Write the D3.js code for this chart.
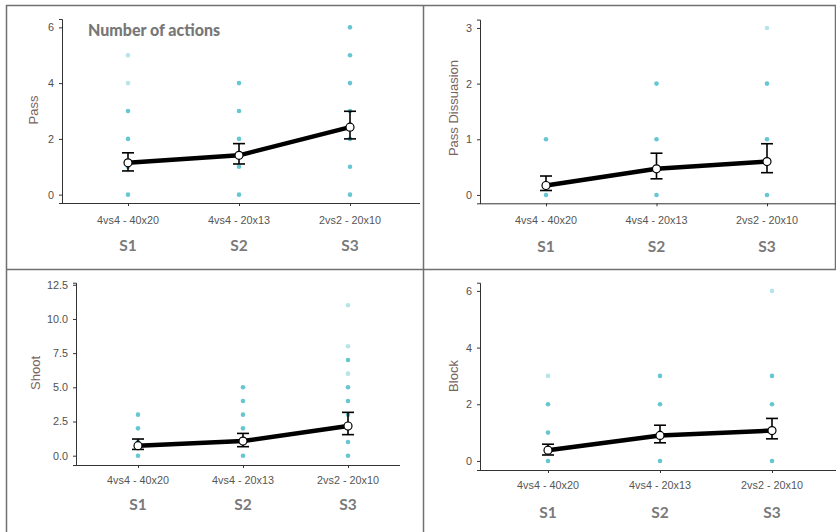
<!DOCTYPE html>
<html>
<head>
<meta charset="utf-8">
<script src="https://cdn.jsdelivr.net/npm/d3@7/dist/d3.min.js"></script>
<style>
  html, body { margin: 0; padding: 0; background: #fff; }
  svg { display: block; }
</style>
</head>
<body>
<svg id="chart" width="836" height="532"></svg>
<script>
// ---------- DATA ----------
const categories = ["4vs4 - 40x20", "4vs4 - 20x13", "2vs2 - 20x10"];
const sessions = ["S1", "S2", "S3"];
const title = "Number of actions";

const passMean = [1.14, 1.41, 2.42];
const passLow  = [0.85, 1.10, 2.00];
const passHigh = [1.50, 1.83, 2.99];
const passDots      = [[0, 1, 2, 3], [0, 1, 2, 3, 4], [0, 1, 2, 3, 4, 5, 6]];
const passDotsLight = [[4, 5], [], []];
const passTicks = [0, 2, 4, 6];

const dissMean = [0.17, 0.47, 0.60];
const dissLow  = [0.08, 0.29, 0.40];
const dissHigh = [0.34, 0.75, 0.92];
const dissDots      = [[0, 1], [0, 1, 2], [0, 1, 2]];
const dissDotsLight = [[], [], [3]];
const dissTicks = [0, 1, 2, 3];

const shootMean = [0.73, 1.07, 2.17];
const shootLow  = [0.46, 0.66, 1.54];
const shootHigh = [1.22, 1.63, 3.17];
const shootDots      = [[0, 1, 2, 3], [0, 1, 2, 3, 4, 5], [0, 1, 2, 3, 4, 5, 7]];
const shootDotsLight = [[], [], [6, 8, 11]];
const shootTicks = [0, 2.5, 5, 7.5, 10, 12.5];

const blockMean = [0.38, 0.90, 1.07];
const blockLow  = [0.21, 0.64, 0.78];
const blockHigh = [0.59, 1.26, 1.50];
const blockDots      = [[0, 1, 2], [0, 1, 2, 3], [0, 1, 2, 3]];
const blockDotsLight = [[3], [], [6]];
const blockTicks = [0, 2, 4, 6];

// ---------- LAYOUT ----------
const panels = [
  { name: "Pass", mean: passMean, low: passLow, high: passHigh, dots: passDots, light: passDotsLight,
    ticks: passTicks, fmt: d3.format("d"), domain: [-0.3, 6.3], yRange: [203, 19],
    axisX: 62, xs: [128, 350], xEnd: 420, tickY: 220, sY: 245, titleX: 33, titleY: 110, showTitle: true },
  { name: "Pass Dissuasion", mean: dissMean, low: dissLow, high: dissHigh, dots: dissDots, light: dissDotsLight,
    ticks: dissTicks, fmt: d3.format("d"), domain: [-0.15, 3.15], yRange: [203.3, 19.6],
    axisX: 480, xs: [546, 767], xEnd: 836, tickY: 220, sY: 246, titleX: 453, titleY: 108 },
  { name: "Shoot", mean: shootMean, low: shootLow, high: shootHigh, dots: shootDots, light: shootDotsLight,
    ticks: shootTicks, fmt: d3.format(".1f"), domain: [-0.68, 12.65], yRange: [465, 282.7],
    axisX: 76, xs: [138, 348], xEnd: 400, tickY: 479.5, sY: 503.5, titleX: 35, titleY: 373 },
  { name: "Block", mean: blockMean, low: blockLow, high: blockHigh, dots: blockDots, light: blockDotsLight,
    ticks: blockTicks, fmt: d3.format("d"), domain: [-0.32, 6.29], yRange: [470, 282.7],
    axisX: 480, xs: [548, 772], xEnd: 836, tickY: 485, sY: 512, titleX: 453, titleY: 376 }
];

const svg = d3.select("#chart");

// frame lines
const frame = svg.append("g").attr("stroke", "#707070").attr("stroke-width", 1.5).attr("fill", "none");
frame.append("line").attr("x1", 6).attr("x2", 836).attr("y1", 5.5).attr("y2", 5.5);
frame.append("line").attr("x1", 6.5).attr("x2", 6.5).attr("y1", 5).attr("y2", 532);
frame.append("line").attr("x1", 423.5).attr("x2", 423.5).attr("y1", 5).attr("y2", 532);
frame.append("line").attr("x1", 6).attr("x2", 836).attr("y1", 269.5).attr("y2", 269.5);
frame.append("line").attr("x1", 835.5).attr("x2", 835.5).attr("y1", 5).attr("y2", 269);

const dotColor = "#5ec3cf";
const tickFont = "10.8px";

panels.forEach(p => {
  const g = svg.append("g");
  const y = d3.scaleLinear().domain(p.domain).range(p.yRange);
  const x = d3.scalePoint().domain(categories).range(p.xs);

  // y axis
  const yAxis = g.append("g").attr("transform", `translate(${p.axisX},0)`)
    .call(d3.axisLeft(y).tickValues(p.ticks).tickFormat(p.fmt).tickSizeOuter(0).tickSize(3).tickPadding(5));
  yAxis.select(".domain").attr("stroke", "#333").attr("stroke-width", 1);
  yAxis.selectAll(".tick line").attr("stroke", "#333");
  yAxis.selectAll(".tick text").attr("fill", "#4f4f4f").style("font-family", "'Liberation Sans', Arial, sans-serif").style("font-size", tickFont);

  // x axis line
  g.append("line").attr("x1", p.axisX).attr("x2", p.xEnd)
    .attr("y1", p.yRange[0] + 0.5).attr("y2", p.yRange[0] + 0.5)
    .attr("stroke", "#333").attr("stroke-width", 1);
  const xTicks = g.append("g").attr("transform", `translate(0,${p.yRange[0]})`)
    .call(d3.axisBottom(x).tickSize(3).tickSizeOuter(0).tickFormat(""));
  xTicks.select(".domain").remove();
  xTicks.selectAll(".tick line").attr("stroke", "#333");

  // category labels
  g.selectAll("text.cat").data(categories).join("text")
    .attr("class", "cat")
    .attr("x", d => x(d)).attr("y", p.tickY)
    .attr("text-anchor", "middle").attr("dominant-baseline", "central")
    .attr("fill", "#555")
    .style("font-family", "'Liberation Sans', Arial, sans-serif").style("font-size", tickFont)
    .text(d => d);

  // session labels
  g.selectAll("text.ses").data(sessions).join("text")
    .attr("class", "ses")
    .attr("x", (d, i) => x(categories[i])).attr("y", p.sY)
    .attr("text-anchor", "middle").attr("dominant-baseline", "central")
    .attr("fill", "#7a7a7a")
    .style("font-family", "Lato, 'Open Sans', sans-serif").style("font-weight", "bold").style("font-size", "15.5px")
    .text(d => d);

  // y title
  g.append("text")
    .attr("transform", `translate(${p.titleX},${p.titleY}) rotate(-90)`)
    .attr("text-anchor", "middle").attr("dominant-baseline", "central")
    .attr("fill", "#7a645c")
    .style("font-family", "'Liberation Sans', Arial, sans-serif").style("font-size", "13px")
    .text(p.name);

  if (p.showTitle) {
    g.append("text").attr("x", 88).attr("y", 29)
      .attr("dominant-baseline", "central")
      .attr("fill", "#777")
      .style("font-family", "Lato, 'Open Sans', sans-serif").style("font-weight", "900").style("font-size", "16px")
      .text(title);
  }

  // raw points
  categories.forEach((c, i) => {
    g.selectAll(null).data(p.dots[i]).join("circle")
      .attr("cx", x(c)).attr("cy", d => y(d)).attr("r", 2.3)
      .attr("fill", dotColor).attr("opacity", 0.95);
    g.selectAll(null).data(p.light[i]).join("circle")
      .attr("cx", x(c)).attr("cy", d => y(d)).attr("r", 2.3)
      .attr("fill", dotColor).attr("opacity", 0.45);
  });

  // mean line
  const line = d3.line().x((d, i) => x(categories[i])).y(d => y(d));
  g.append("path").datum(p.mean).attr("d", line)
    .attr("fill", "none").attr("stroke", "#000").attr("stroke-width", 4.5).attr("stroke-linejoin", "round");

  // error bars
  categories.forEach((c, i) => {
    const cx = x(c);
    const eb = g.append("g").attr("stroke", "#000").attr("stroke-width", 1.6);
    eb.append("line").attr("x1", cx).attr("x2", cx).attr("y1", y(p.low[i])).attr("y2", y(p.high[i]));
    eb.append("line").attr("x1", cx - 6).attr("x2", cx + 6).attr("y1", y(p.low[i])).attr("y2", y(p.low[i]));
    eb.append("line").attr("x1", cx - 6).attr("x2", cx + 6).attr("y1", y(p.high[i])).attr("y2", y(p.high[i]));
  });

  // mean points
  g.selectAll(null).data(p.mean).join("circle")
    .attr("cx", (d, i) => x(categories[i])).attr("cy", d => y(d)).attr("r", 4)
    .attr("fill", "#fff").attr("stroke", "#000").attr("stroke-width", 1.2);
});
</script>
</body>
</html>
